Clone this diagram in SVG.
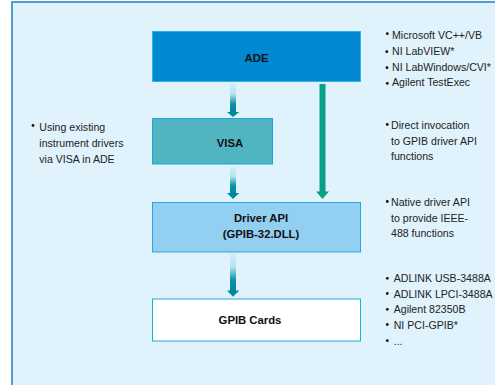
<svg xmlns="http://www.w3.org/2000/svg" width="495" height="385" viewBox="0 0 495 385">
<defs>
<linearGradient id="g" x1="0" y1="0" x2="0" y2="1">
<stop offset="0" stop-color="#cfeef9"/>
<stop offset="0.35" stop-color="#b8e2f0"/>
<stop offset="0.7" stop-color="#0c92a4"/>
<stop offset="1" stop-color="#00879a"/>
</linearGradient>
<style>
.b{font-family:"Liberation Sans",Arial,sans-serif;font-weight:bold;font-size:11.3px;fill:#111;text-anchor:middle}
.t{font-family:"Liberation Sans",Arial,sans-serif;font-size:10.6px;fill:#222}
.d{fill:#111}
</style>
</defs>
<rect x="0" y="0" width="495" height="385" fill="#ffffff"/>
<rect x="12" y="2" width="500" height="400" fill="#e0f2fc" stroke="#4f9dd3" stroke-width="2"/>
<g id="ade">
<rect x="152.5" y="31.5" width="208" height="50" fill="#0089d0" stroke="#35b2e9" stroke-width="1"/>
<text class="b" x="256.5" y="62">ADE</text>
</g>
<g id="visa">
<rect x="152.5" y="118.5" width="120" height="45.5" fill="#50b5c1" stroke="#1ea4dd" stroke-width="1"/>
<text class="b" x="230" y="147">VISA</text>
</g>
<g id="driver">
<rect x="152.5" y="202.5" width="208" height="49.5" fill="#93cff0" stroke="#22a9e1" stroke-width="1"/>
<text class="b" x="261" y="221.5">Driver API</text>
<text class="b" x="261" y="237.5">(GPIB-32.DLL)</text>
</g>
<g id="cards">
<rect x="152.5" y="299" width="208" height="42" fill="#ffffff" stroke="#1eaae2" stroke-width="1"/>
<text class="b" x="250" y="324.3">GPIB Cards</text>
</g>
<g id="connectors">
<rect x="230" y="84" width="6" height="28.5" fill="url(#g)"/>
<polygon points="227,112 239.3,112 233,117" fill="#00889c"/>
<rect x="230" y="167" width="6" height="26.5" fill="url(#g)"/>
<polygon points="227,193 239.3,193 233,199" fill="#00889c"/>
<rect x="230" y="254" width="6" height="37" fill="url(#g)"/>
<polygon points="227,290.5 239.3,290.5 233,296.8" fill="#00889c"/>
<rect x="319.5" y="84" width="6" height="108" fill="#07a08a"/>
<polygon points="316,191.5 329,191.5 322.5,199" fill="#07a08a"/>
</g>
<g id="notes">
<circle class="d" cx="387.3" cy="33.7" r="1.4"/>
<text class="t" x="392" y="39.3">Microsoft VC++/VB</text>
<circle class="d" cx="386.8" cy="51.7" r="1.4"/>
<text class="t" x="392" y="55">NI LabVIEW*</text>
<circle class="d" cx="387" cy="67.7" r="1.4"/>
<text class="t" x="392" y="70.7">NI LabWindows/CVI*</text>
<circle class="d" cx="387.3" cy="83.3" r="1.4"/>
<text class="t" x="392" y="85.5">Agilent TestExec</text>

<circle class="d" cx="33" cy="125.5" r="1.4"/>
<text class="t" x="39.3" y="130.7">Using existing</text>
<text class="t" x="39.3" y="146.7">instrument drivers</text>
<text class="t" x="39.3" y="162.7">via VISA in ADE</text>

<circle class="d" cx="387.3" cy="124.5" r="1.4"/>
<text class="t" x="391" y="129">Direct invocation</text>
<text class="t" x="391" y="144.5">to GPIB driver API</text>
<text class="t" x="391" y="160">functions</text>

<circle class="d" cx="387.3" cy="201.5" r="1.4"/>
<text class="t" x="391" y="206.3">Native driver API</text>
<text class="t" x="391" y="221.7">to provide IEEE-</text>
<text class="t" x="391" y="237">488 functions</text>

<circle class="d" cx="387.3" cy="278.3" r="1.4"/>
<text class="t" x="393.7" y="282.3">ADLINK USB-3488A</text>
<circle class="d" cx="387.3" cy="293.5" r="1.4"/>
<text class="t" x="393.7" y="298">ADLINK LPCI-3488A</text>
<circle class="d" cx="387.3" cy="309.3" r="1.4"/>
<text class="t" x="393.7" y="313.3">Agilent 82350B</text>
<circle class="d" cx="387.3" cy="324.5" r="1.4"/>
<text class="t" x="393.7" y="328.7">NI PCI-GPIB*</text>
<circle class="d" cx="387.3" cy="340.7" r="1.4"/>
<text class="t" x="393.7" y="344.5">...</text>
</g>
</svg>
